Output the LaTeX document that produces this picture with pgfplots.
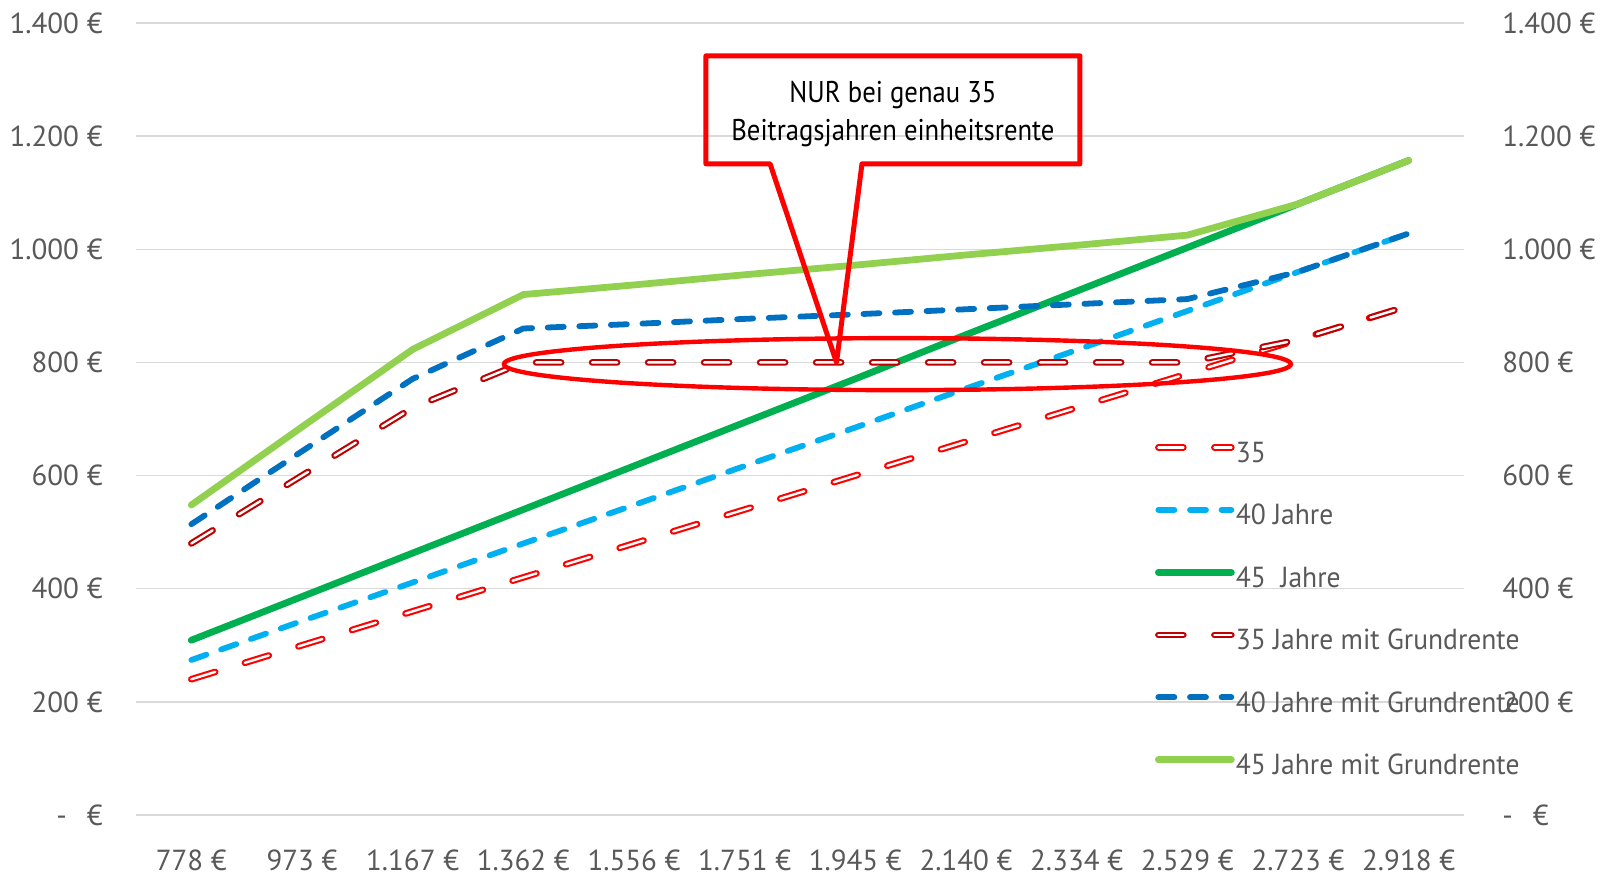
\documentclass[border=0pt]{standalone}
\usepackage{fontspec}
\setmainfont{PT Sans}
\newfontfamily\annfont{PT Sans}[FakeStretch=0.89]
\newfontfamily\legfont{PT Sans}[FakeStretch=0.95]
\usepackage{pgfplots}
\pgfplotsset{compat=1.18}
\definecolor{cA}{HTML}{FF0000}
\definecolor{cB}{HTML}{00B0F0}
\definecolor{cC}{HTML}{00B050}
\definecolor{cD}{HTML}{C00000}
\definecolor{cE}{HTML}{0070C0}
\definecolor{cF}{HTML}{92D050}
\definecolor{gridc}{HTML}{D9D9D9}
\definecolor{labc}{HTML}{595959}
\pgfplotstableread{
x s35 s40 s45 g35 g40 g45
0 240 274 309 480 514 548
1 300 343 386 600 643 686
2 360 411 463 720 771 823
3 420 480 540 800 860 920
4 480 548 617 800 868 937
5 540 617 694 800 877 955
6 600 685 771 800 885 972
7 660 754 849 800 894 990
8 720 822 926 800 903 1007
9 780 891 1003 800 912 1025
10 840 960 1080 840 960 1080
11 900 1028 1157 900 1028 1157
}\datatable
\begin{document}
\begin{tikzpicture}
\useasboundingbox (-68pt,-30pt) rectangle (734.5pt,407.5pt);
\begin{axis}[
  at={(0pt,0pt)}, anchor=south west, scale only axis,
  width=664pt, height=396pt,
  xmin=-0.5, xmax=11.5, ymin=0, ymax=1400,
  xtick={0,...,11},
  xticklabels={778 €,973 €,1.167 €,1.362 €,1.556 €,1.751 €,1.945 €,2.140 €,2.334 €,2.529 €,2.723 €,2.918 €},
  ytick={0,200,...,1400},
  yticklabels={{-\hspace{10pt}€},200 €,400 €,600 €,800 €,1.000 €,1.200 €,1.400 €},
  axis line style={draw=none}, major tick length=0pt,
  ymajorgrids, grid style={color=gridc, line width=0.75pt},
  tick label style={font=\fontsize{14.5}{17}\selectfont, text=labc, inner sep=0pt},
  yticklabel style={anchor=east, xshift=-16.5pt},
  xticklabel style={anchor=north, yshift=-17pt},
  clip=false, no markers,
  legend style={at={(0.767,0.471)}, anchor=north west, draw=none, fill=none,
    inner sep=0pt, row sep=18.25pt, column sep=0.5pt,
    font=\legfont\fontsize{14.5}{17}\selectfont, text=labc,
    nodes={inner sep=0pt, text height=10pt, text depth=3pt}},
  legend cell align=left,
  legend image code/.code={\draw[#1] (0pt,4pt) -- (36.5pt,4pt);},
]
\addplot[cA, line width=1.05pt, double=white, double distance=1.2pt, dash pattern=on 12.5pt off 15.5pt, line cap=round, line join=round] table[x=x,y=s35] {\datatable};
\addlegendentry{35}
\addplot[cB, line width=2.9pt, dash pattern=on 8pt off 7.8pt, line cap=round, line join=round] table[x=x,y=s40] {\datatable};
\addlegendentry{40 Jahre}
\addplot[cC, line width=3.4pt, line cap=round, line join=round] table[x=x,y=s45] {\datatable};
\addlegendentry{45\ \ Jahre}
\addplot[cD, line width=1.05pt, double=white, double distance=1.2pt, dash pattern=on 12.5pt off 15.5pt, line cap=round, line join=round] table[x=x,y=g35] {\datatable};
\addlegendentry{35 Jahre mit Grundrente}
\addplot[cE, line width=2.9pt, dash pattern=on 8pt off 7.8pt, line cap=round, line join=round] table[x=x,y=g40] {\datatable};
\addlegendentry{40 Jahre mit Grundrente}
\addplot[cF, line width=3.4pt, line cap=round, line join=round] table[x=x,y=g45] {\datatable};
\addlegendentry{45 Jahre mit Grundrente}
\draw[red, line width=2.2pt] (axis cs:6.38,797) ellipse [x radius=196.75pt, y radius=13pt];
\draw[red, line width=2.5pt, line join=round] (axis cs:4.65,1342) -- (axis cs:8.03,1342) -- (axis cs:8.03,1151) -- (axis cs:6.06,1151) -- (axis cs:5.83,800) -- (axis cs:5.23,1151) -- (axis cs:4.65,1151) -- cycle;
\node[font=\annfont\fontsize{15}{19}\selectfont, align=center, text=black] at (axis cs:6.34,1240) {NUR bei genau 35\\Beitragsjahren einheitsrente};
\end{axis}
\begin{axis}[
  at={(0pt,0pt)}, anchor=south west, scale only axis,
  width=664pt, height=396pt,
  xmin=-0.5, xmax=11.5, ymin=0, ymax=1400,
  xtick=\empty,
  ytick={0,200,...,1400},
  yticklabels={{-\hspace{10pt}€},200 €,400 €,600 €,800 €,1.000 €,1.200 €,1.400 €},
  yticklabel pos=right,
  axis line style={draw=none}, major tick length=0pt,
  tick label style={font=\fontsize{14.5}{17}\selectfont, text=labc, inner sep=0pt},
  yticklabel style={anchor=west, xshift=19pt},
]
\end{axis}
\end{tikzpicture}
\end{document}
